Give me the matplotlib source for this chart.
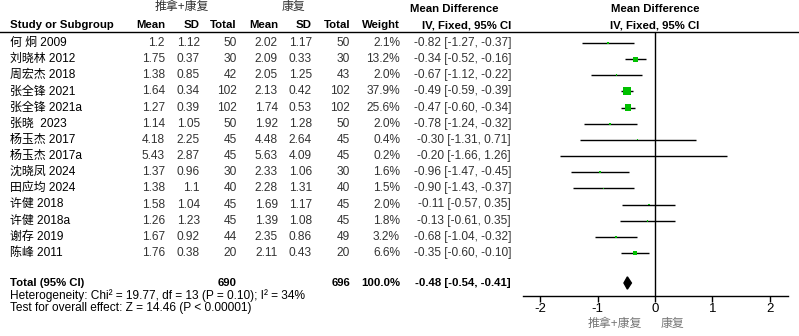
import matplotlib.pyplot as plt
import matplotlib.transforms as mtransforms
import numpy as np

plt.rcParams['font.family'] = ['Liberation Sans', 'Noto Sans CJK SC', 'DejaVu Sans']

# Données des études
studies = ["何 炯 2009", "刘晓林 2012", "周宏杰 2018", "张全锋 2021", "张全锋 2021a",
           "张晓  2023", "杨玉杰 2017", "杨玉杰 2017a", "沈晓凤 2024", "田应均 2024",
           "许健 2018", "许健 2018a", "谢存 2019", "陈峰 2011"]
exp_mean = [1.2, 1.75, 1.38, 1.64, 1.27, 1.14, 4.18, 5.43, 1.37, 1.38, 1.58, 1.26, 1.67, 1.76]
exp_sd = [1.12, 0.37, 0.85, 0.34, 0.39, 1.05, 2.25, 2.87, 0.96, 1.1, 1.04, 1.23, 0.92, 0.38]
exp_n = [50, 30, 42, 102, 102, 50, 45, 45, 30, 40, 45, 45, 44, 20]
ctl_mean = [2.02, 2.09, 2.05, 2.13, 1.74, 1.92, 4.48, 5.63, 2.33, 2.28, 1.69, 1.39, 2.35, 2.11]
ctl_sd = [1.17, 0.33, 1.25, 0.42, 0.53, 1.28, 2.64, 4.09, 1.06, 1.31, 1.17, 1.08, 0.86, 0.43]
ctl_n = [50, 30, 43, 102, 102, 50, 45, 45, 30, 40, 45, 45, 49, 20]
weights = [2.1, 13.2, 2.0, 37.9, 25.6, 2.0, 0.4, 0.2, 1.6, 1.5, 2.0, 1.8, 3.2, 6.6]
md = [-0.82, -0.34, -0.67, -0.49, -0.47, -0.78, -0.30, -0.20, -0.96, -0.90, -0.11, -0.13, -0.68, -0.35]
ci_low = [-1.27, -0.52, -1.12, -0.59, -0.60, -1.24, -1.31, -1.66, -1.47, -1.43, -0.57, -0.61, -1.04, -0.60]
ci_high = [-0.37, -0.16, -0.22, -0.39, -0.34, -0.32, 0.71, 1.26, -0.45, -0.37, 0.35, 0.35, -0.32, -0.10]
total_exp = 690
total_ctl = 696
total_md, total_low, total_high = -0.48, -0.54, -0.41
x_ticks = [-2, -1, 0, 1, 2]

W, H = 799, 336
fig = plt.figure(figsize=(W / 100, H / 100), dpi=100)

# axe du forest plot (pixels : x 523-788, y 32-296)
ax = fig.add_axes([523 / W, (H - 296) / H, (788 - 523) / W, (296 - 32) / H])
row0, step = 43, 16.15
ax.set_ylim((296 - row0) / step, (32 - row0) / step)
ax.set_xlim(-2.3, 2.32)
for s in ['top', 'left', 'right']:
    ax.spines[s].set_visible(False)
ax.spines['bottom'].set_linewidth(1.0)
ax.set_yticks([])
ax.set_xticks(x_ticks)
ax.set_xticklabels([str(t) for t in x_ticks], fontsize=9.5)
ax.tick_params(axis='x', direction='out', length=4, width=1, pad=1)
ax.axvline(0, color='black', lw=1)
ax.patch.set_alpha(0)

rows = np.arange(len(studies))
ax.hlines(rows, ci_low, ci_high, color='black', lw=1)
sizes = (1.3 * np.sqrt(weights) * 0.72) ** 2
ax.scatter(md, rows, s=sizes, marker='s', color='#00c000', zorder=3, linewidths=0)

y_total = (283 - row0) / step
ax.fill([total_low, total_md, total_high, total_md],
        [y_total, y_total - 0.38, y_total, y_total + 0.38], color='black', zorder=3)

# colonnes du tableau
tr = mtransforms.blended_transform_factory(fig.transFigure, ax.transData)
fs = 8.6
fb = 8.2
cols = [(165, exp_mean), (200, exp_sd), (237, exp_n), (278, ctl_mean),
        (312, ctl_sd), (350, ctl_n)]
for i in rows:
    ax.text(10 / W, i, studies[i], transform=tr, ha='left', va='center', fontsize=fs, clip_on=False)
    for xp, vals in cols:
        ax.text(xp / W, i, str(vals[i]), transform=tr, ha='right', va='center',
                fontsize=fs, color='#333333', clip_on=False)
    ax.text(400 / W, i, f"{weights[i]:.1f}%", transform=tr, ha='right', va='center',
            fontsize=fs, color='#333333', clip_on=False)
    ax.text(511 / W, i, f"{md[i]:.2f} [{ci_low[i]:.2f}, {ci_high[i]:.2f}]", transform=tr,
            ha='right', va='center', fontsize=fs, color='#333333', clip_on=False)

# ligne total
ax.text(10 / W, y_total, "Total (95% CI)", transform=tr, ha='left', va='center',
        fontsize=fb, fontweight='bold', clip_on=False)
ax.text(237 / W, y_total, str(total_exp), transform=tr, ha='right', va='center',
        fontsize=fb, fontweight='bold', clip_on=False)
ax.text(350 / W, y_total, str(total_ctl), transform=tr, ha='right', va='center',
        fontsize=fb, fontweight='bold', clip_on=False)
ax.text(400 / W, y_total, "100.0%", transform=tr, ha='right', va='center',
        fontsize=fb, fontweight='bold', clip_on=False)
ax.text(511 / W, y_total, f"{total_md:.2f} [{total_low:.2f}, {total_high:.2f}]", transform=tr,
        ha='right', va='center', fontsize=fb, fontweight='bold', clip_on=False)

def fy(p):
    return 1 - p / H

fig.text(10 / W, fy(296), "Heterogeneity: Chi² = 19.77, df = 13 (P = 0.10); I² = 34%",
         ha='left', va='center', fontsize=fs)
fig.text(10 / W, fy(308), "Test for overall effect: Z = 14.46 (P < 0.00001)",
         ha='left', va='center', fontsize=fs)

# en-têtes
fig.text(182 / W, fy(7), "推拿+康复", ha='center', va='center', fontsize=fs, color='#333333')
fig.text(293 / W, fy(7), "康复", ha='center', va='center', fontsize=fs, color='#333333')
fig.text(410 / W, fy(9), "Mean Difference", ha='left', va='center', fontsize=fb, fontweight='bold')
fig.text(511 / W, fy(25), "IV, Fixed, 95% CI", ha='right', va='center', fontsize=fb, fontweight='bold')
fig.text(655 / W, fy(9), "Mean Difference", ha='center', va='center', fontsize=fb, fontweight='bold')
fig.text(655 / W, fy(25), "IV, Fixed, 95% CI", ha='center', va='center', fontsize=fb, fontweight='bold')
header = [(10, "Study or Subgroup", 'left'), (165, "Mean", 'right'), (200, "SD", 'right'),
          (237, "Total", 'right'), (278, "Mean", 'right'), (312, "SD", 'right'),
          (350, "Total", 'right'), (400, "Weight", 'right')]
for xp, label, ha in header:
    fig.text(xp / W, fy(25), label, ha=ha, va='center', fontsize=fb, fontweight='bold')
fig.add_artist(plt.Line2D([0, 1], [fy(32), fy(32)], color='black', lw=1))

# libellés sous l'axe
fig.text(615 / W, fy(324), "推拿+康复", ha='center', va='center', fontsize=fs, color='#777777')
fig.text(672 / W, fy(324), "康复", ha='center', va='center', fontsize=fs, color='#777777')

fig.savefig("out.png", dpi=100)
